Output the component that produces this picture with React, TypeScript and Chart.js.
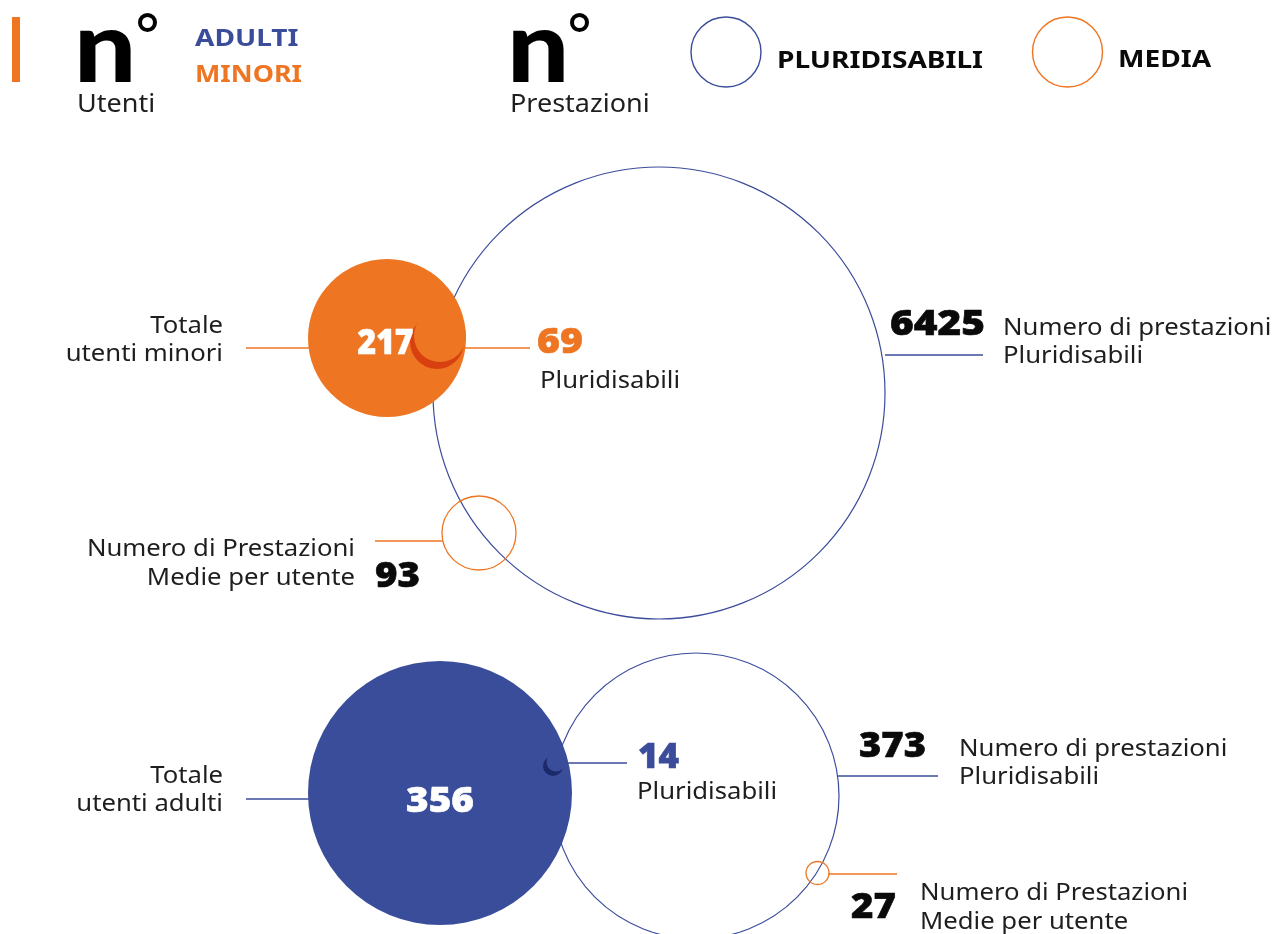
import React, { useEffect, useRef } from "react";
import { Chart, registerables } from "chart.js";

Chart.register(...registerables);

// ---------------- DATA ----------------
const GROUPS = ["minori", "adulti"];
const TOTAL_USERS = [217, 356];
const PLURIDISABILI_USERS = [69, 14];
const PRESTAZIONI_PLURI = [6425, 373];
const MEDIA_PER_UTENTE = [93, 27];
const LEGEND_GROUPS = ["ADULTI", "MINORI"];
const LEGEND_ITEMS = ["PLURIDISABILI", "MEDIA"];
const USER_LABELS = [["Totale", "utenti minori"], ["Totale", "utenti adulti"]];
const PRESTAZIONI_LABEL = ["Numero di prestazioni", "Pluridisabili"];
const MEDIA_LABEL = ["Numero di Prestazioni", "Medie per utente"];
const PLURI_LABEL = "Pluridisabili";

// ---------------- STYLE / LAYOUT ----------------
const W = 1274;
const H = 934;
const ORANGE = "#EE7623";
const NAVY = "#3B4C9B";
const BLUE_FILL = "#3A4D9B";
const DARK_ORANGE = "#D9400F";
const DARK_NAVY = "#1D2A6A";
const INK = "#0a0a0a";
const LABEL = "#1e1e1e";

const FONT_REG = "24px 'Noto Sans', 'Open Sans', sans-serif";
const FONT_SUB = "25px 'Noto Sans', 'Open Sans', sans-serif";
const FONT_BOLD = "bold 24px 'Noto Sans', 'Open Sans', sans-serif";
const FONT_NUM = "900 35px 'Noto Sans', 'DejaVu Sans', sans-serif";
const FONT_BIG = "900 100px Lato, 'Noto Sans', sans-serif";
const REG_STRETCH = 1.07;
const BOLD_STRETCH = 1.17;
const NUM_HEFT = 0.6;

// per-group layout (pixel units of the chart scales)
const LAYOUT = [
  {
    color: ORANGE,
    fill: ORANGE,
    dark: DARK_ORANGE,
    user: { x: 387, y: 338, r: 79 },
    big: { x: 659, y: 393, r: 226 },
    crescentDark: { x: 437, y: 342, r: 27 },
    crescentTop: { x: 440, y: 336, r: 26 },
    media: { x: 479, y: 533, r: 37 },
    lineUser: { x0: 246, x1: 320, y: 348 },
    linePluri: { x0: 455, x1: 530, y: 348, color: ORANGE },
    linePrest: { x0: 885, x1: 983, y: 355 },
    lineMedia: { x0: 375, x1: 442, y: 541 },
    userLabel: { x: 223, y: 333 },
    userNum: { x: 385.5, y: 354, w: 56 },
    pluriNum: { x: 537, y: 353, w: 46, color: ORANGE },
    pluriLabel: { x: 540, y: 388 },
    prestNum: { x: 890, y: 335, w: 95 },
    prestLabel: { x: 1003, y: 335 },
    mediaNum: { x: 375, y: 587, w: 45 },
    mediaLabel: { x: 355, y: 556, align: "right" },
  },
  {
    color: NAVY,
    fill: BLUE_FILL,
    dark: DARK_NAVY,
    user: { x: 440, y: 793, r: 132 },
    big: { x: 696, y: 796, r: 143 },
    crescentDark: { x: 553, y: 766, r: 10 },
    crescentTop: { x: 556, y: 762, r: 9.5 },
    media: { x: 817.5, y: 873, r: 11.5 },
    lineUser: { x0: 246, x1: 320, y: 799 },
    linePluri: { x0: 560, x1: 627, y: 763, color: NAVY },
    linePrest: { x0: 838, x1: 938, y: 776 },
    lineMedia: { x0: 828, x1: 897, y: 874 },
    userLabel: { x: 223, y: 783 },
    userNum: { x: 440, y: 812, w: 68 },
    pluriNum: { x: 638, y: 768, w: 41, color: NAVY },
    pluriLabel: { x: 637, y: 799 },
    prestNum: { x: 859, y: 757, w: 67 },
    prestLabel: { x: 959, y: 756 },
    mediaNum: { x: 851, y: 918, w: 45 },
    mediaLabel: { x: 920, y: 900, align: "left" },
  },
];

const LEGEND_CIRCLES = [
  { x: 726, y: 52, r: 35, color: NAVY },
  { x: 1067.5, y: 52, r: 35, color: ORANGE },
];

function drawText(
  ctx: CanvasRenderingContext2D,
  s: string,
  x: number,
  y: number,
  font: string,
  color: string,
  align: "left" | "right" | "center",
  stretch: number,
  width?: number,
  heft?: number
) {
  ctx.save();
  ctx.font = font;
  ctx.fillStyle = color;
  ctx.textBaseline = "alphabetic";
  ctx.textAlign = "left";
  const m = ctx.measureText(s).width;
  const sx = width ? width / m : stretch;
  const tw = m * sx;
  const left = align === "right" ? x - tw : align === "center" ? x - tw / 2 : x;
  ctx.translate(left, y);
  ctx.scale(sx, 1);
  ctx.fillText(s, 0, 0);
  if (heft) {
    ctx.strokeStyle = color;
    ctx.lineWidth = heft;
    ctx.lineJoin = "round";
    ctx.strokeText(s, 0, 0);
  }
  ctx.restore();
}

const textPlugin = {
  id: "infographicText",
  afterDraw(chart: any) {
    const ctx: CanvasRenderingContext2D = chart.ctx;
    const xs = chart.scales.x;
    const ys = chart.scales.y;
    const px = (v: number) => xs.getPixelForValue(v);
    const py = (v: number) => ys.getPixelForValue(v);

    // header
    ctx.save();
    ctx.fillStyle = ORANGE;
    ctx.fillRect(px(12), py(17), 8, 65);
    ctx.restore();

    const drawN = (x: number, degX: number, sub: string) => {
      drawText(ctx, "n", px(x), py(82), FONT_BIG, "#000", "left", 1.1);
      ctx.save();
      ctx.strokeStyle = "#000";
      ctx.lineWidth = 4;
      ctx.beginPath();
      ctx.arc(px(degX), py(22.5), 7.5, 0, Math.PI * 2);
      ctx.stroke();
      ctx.restore();
      drawText(ctx, sub, px(x + 3), py(112), FONT_SUB, LABEL, "left", 1.08);
    };
    drawN(74, 147.5, "Utenti");
    drawN(507, 579.5, "Prestazioni");

    drawText(ctx, LEGEND_GROUPS[0], px(195), py(46), FONT_BOLD, NAVY, "left", BOLD_STRETCH);
    drawText(ctx, LEGEND_GROUPS[1], px(195), py(82), FONT_BOLD, ORANGE, "left", 1.12);
    drawText(ctx, LEGEND_ITEMS[0], px(777), py(68), FONT_BOLD, INK, "left", BOLD_STRETCH);
    drawText(ctx, LEGEND_ITEMS[1], px(1118), py(67), FONT_BOLD, INK, "left", BOLD_STRETCH);

    GROUPS.forEach((_, i) => {
      const L: any = LAYOUT[i];
      // users
      drawText(ctx, USER_LABELS[i][0], px(L.userLabel.x), py(L.userLabel.y), FONT_REG, LABEL, "right", REG_STRETCH);
      drawText(ctx, USER_LABELS[i][1], px(L.userLabel.x), py(L.userLabel.y + 28), FONT_REG, LABEL, "right", REG_STRETCH);
      drawText(ctx, String(TOTAL_USERS[i]), px(L.userNum.x), py(L.userNum.y), FONT_NUM, "#ffffff", "center", 1, L.userNum.w, NUM_HEFT);
      // pluridisabili users
      drawText(ctx, String(PLURIDISABILI_USERS[i]), px(L.pluriNum.x), py(L.pluriNum.y), FONT_NUM, L.pluriNum.color, "left", 1, L.pluriNum.w, NUM_HEFT);
      drawText(ctx, PLURI_LABEL, px(L.pluriLabel.x), py(L.pluriLabel.y), FONT_REG, LABEL, "left", REG_STRETCH);
      // prestazioni
      drawText(ctx, String(PRESTAZIONI_PLURI[i]), px(L.prestNum.x), py(L.prestNum.y), FONT_NUM, INK, "left", 1, L.prestNum.w, NUM_HEFT);
      drawText(ctx, PRESTAZIONI_LABEL[0], px(L.prestLabel.x), py(L.prestLabel.y), FONT_REG, LABEL, "left", REG_STRETCH);
      drawText(ctx, PRESTAZIONI_LABEL[1], px(L.prestLabel.x), py(L.prestLabel.y + 28), FONT_REG, LABEL, "left", REG_STRETCH);
      // media
      drawText(ctx, String(MEDIA_PER_UTENTE[i]), px(L.mediaNum.x), py(L.mediaNum.y), FONT_NUM, INK, "left", 1, L.mediaNum.w, NUM_HEFT);
      drawText(ctx, MEDIA_LABEL[0], px(L.mediaLabel.x), py(L.mediaLabel.y), FONT_REG, LABEL, L.mediaLabel.align, REG_STRETCH);
      drawText(ctx, MEDIA_LABEL[1], px(L.mediaLabel.x), py(L.mediaLabel.y + 29), FONT_REG, LABEL, L.mediaLabel.align, REG_STRETCH);
    });
  },
};

function bubble(p: { x: number; y: number; r: number }, fill: string, stroke: string, bw: number, order: number, label: string) {
  return {
    type: "bubble" as const,
    label,
    data: [{ x: p.x, y: p.y, r: p.r }],
    backgroundColor: fill,
    borderColor: stroke,
    borderWidth: bw,
    hoverRadius: 0,
    hoverBorderWidth: bw,
    hitRadius: 0,
    clip: false as any,
    order,
  };
}

function line(x0: number, x1: number, y: number, color: string, order: number, label: string) {
  return {
    type: "line" as const,
    label,
    data: [
      { x: x0, y },
      { x: x1, y },
    ],
    borderColor: color,
    borderWidth: 1.3,
    pointRadius: 0,
    pointHoverRadius: 0,
    fill: false,
    tension: 0,
    clip: false as any,
    order,
  };
}

export default function App() {
  const ref = useRef<HTMLCanvasElement | null>(null);

  useEffect(() => {
    document.body.style.margin = "0";
    document.body.style.overflow = "hidden";
    const datasets: any[] = [];
    GROUPS.forEach((g, i) => {
      const L: any = LAYOUT[i];
      datasets.push(bubble(L.big, "rgba(0,0,0,0)", NAVY, 1.2, 50, `prestazioni-${g}-${PRESTAZIONI_PLURI[i]}`));
      datasets.push(line(L.lineUser.x0, L.lineUser.x1, L.lineUser.y, L.color, 40, `line-user-${g}`));
      datasets.push(line(L.linePluri.x0, L.linePluri.x1, L.linePluri.y, L.linePluri.color, 40, `line-pluri-${g}`));
      datasets.push(line(L.linePrest.x0, L.linePrest.x1, L.linePrest.y, NAVY, 40, `line-prest-${g}`));
      datasets.push(line(L.lineMedia.x0, L.lineMedia.x1, L.lineMedia.y, ORANGE, 40, `line-media-${g}`));
      datasets.push(bubble(L.media, "rgba(0,0,0,0)", ORANGE, 1.3, 35, `media-${g}-${MEDIA_PER_UTENTE[i]}`));
      datasets.push(bubble(L.user, L.fill, L.fill, 0, 30, `utenti-${g}-${TOTAL_USERS[i]}`));
      datasets.push(bubble(L.crescentDark, L.dark, L.dark, 0, 20, `pluri-${g}-${PLURIDISABILI_USERS[i]}`));
      datasets.push(bubble(L.crescentTop, L.fill, L.fill, 0, 10, `pluri-mask-${g}`));
    });
    LEGEND_CIRCLES.forEach((c, i) => {
      datasets.push(bubble(c, "rgba(0,0,0,0)", c.color, 1.4, 5, `legend-${LEGEND_ITEMS[i]}`));
    });

    const chart = new Chart(ref.current as HTMLCanvasElement, {
      type: "bubble",
      data: { datasets },
      options: {
        animation: false,
        responsive: true,
        maintainAspectRatio: false,
        events: [],
        layout: { padding: 0, autoPadding: false },
        plugins: {
          legend: { display: false },
          tooltip: { enabled: false },
          title: { display: false },
        },
        scales: {
          x: { type: "linear", min: 0, max: W, display: false, offset: false },
          y: { type: "linear", min: 0, max: H, reverse: true, display: false, offset: false },
        },
      },
      plugins: [textPlugin],
    } as any);
    return () => chart.destroy();
  }, []);

  return (
    <div style={{ width: W, height: H, position: "relative", background: "#fff" }}>
      <canvas ref={ref} />
    </div>
  );
}
